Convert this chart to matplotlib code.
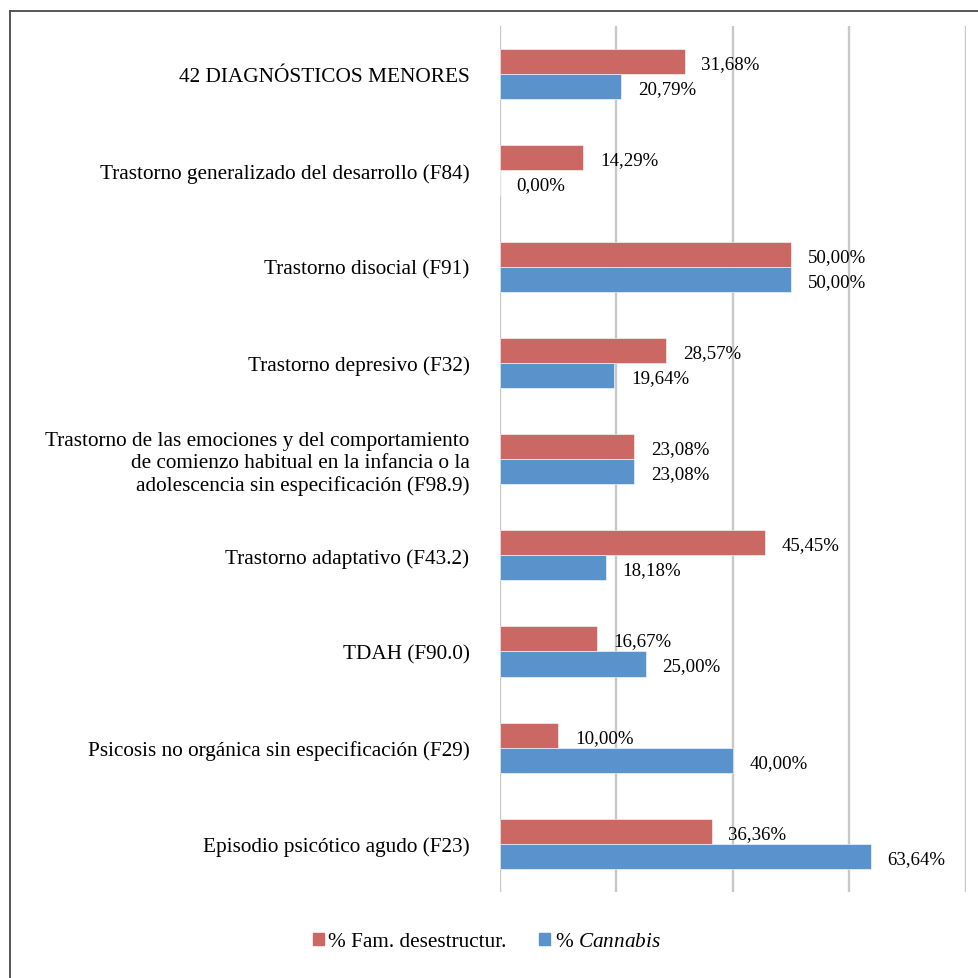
import numpy as np
import matplotlib.pyplot as plt
from matplotlib.lines import Line2D

plt.rcParams["font.family"] = ["Liberation Serif", "DejaVu Serif"]
plt.rcParams["mathtext.fontset"] = "custom"
plt.rcParams["mathtext.rm"] = "Liberation Serif"
plt.rcParams["mathtext.it"] = "Liberation Serif:italic"

categories = [
    "42 DIAGNÓSTICOS MENORES",
    "Trastorno generalizado del desarrollo (F84)",
    "Trastorno disocial (F91)",
    "Trastorno depresivo (F32)",
    "Trastorno de las emociones y del comportamiento\n"
    "de comienzo habitual en la infancia o la\n"
    "adolescencia sin especificación (F98.9)",
    "Trastorno adaptativo (F43.2)",
    "TDAH (F90.0)",
    "Psicosis no orgánica sin especificación (F29)",
    "Episodio psicótico agudo (F23)",
]
fam_desestructur = [31.68, 14.29, 50.00, 28.57, 23.08, 45.45, 16.67, 10.00, 36.36]
cannabis = [20.79, 0.00, 50.00, 19.64, 23.08, 18.18, 25.00, 40.00, 63.64]
series_labels = ["% Fam. desestructur.", "% $\\mathit{Cannabis}$"]

RED = "#CC6864"
BLUE = "#5A92CB"
GRID = "#C8C8C8"
FS_NUM = 13.6
FS_LAB = 15.3


def fmt(v):
    return f"{v:.2f}%".replace(".", ",")


fig = plt.figure(figsize=(9.79, 9.79), dpi=100)
ax = fig.add_axes([0.5107, 0.0878, 0.4760, 0.8846])

y = np.arange(len(categories))
h = 0.26
ax.barh(y - h / 2, fam_desestructur, height=h, color=RED, edgecolor="white", linewidth=0.4)
ax.barh(y + h / 2, cannabis, height=h, color=BLUE, edgecolor="white", linewidth=0.4)

for yi, v in zip(y - h / 2, fam_desestructur):
    ax.annotate(fmt(v), (v, yi), xytext=(12, -1.5), textcoords="offset points",
                va="center", ha="left", fontsize=FS_NUM)
for yi, v in zip(y + h / 2, cannabis):
    ax.annotate(fmt(v), (v, yi), xytext=(12, -1.5), textcoords="offset points",
                va="center", ha="left", fontsize=FS_NUM)

ax.set_xlim(0, 80)
ax.set_ylim(len(categories) - 0.5, -0.5)
ax.set_xticks([0, 20, 40, 60, 80])
ax.set_xticklabels([])
ax.set_yticks(y)
ax.set_yticklabels(categories, fontsize=FS_LAB, multialignment="right")
ax.tick_params(axis="both", length=0)
ax.tick_params(axis="y", pad=22)
ax.grid(axis="x", color=GRID, linewidth=1.7)
ax.set_axisbelow(True)
for s in ax.spines.values():
    s.set_visible(False)

handles = [
    plt.Rectangle((0, 0), 1, 1, color=RED),
    plt.Rectangle((0, 0), 1, 1, color=BLUE),
]
fig.legend(handles, series_labels, loc="center", bbox_to_anchor=(0.497, 0.037),
           ncol=2, frameon=False, fontsize=FS_LAB, handlelength=0.52, handleheight=0.52,
           handletextpad=0.2, columnspacing=1.55)

# outer frame (only left and top edges are visible in the crop)
fig.add_artist(Line2D([9.5 / 979, 9.5 / 979], [0, 1 - 11.5 / 979], color="#555555",
                      linewidth=1.4, transform=fig.transFigure))
fig.add_artist(Line2D([9.5 / 979, 1], [1 - 11.5 / 979, 1 - 11.5 / 979], color="#555555",
                      linewidth=1.4, transform=fig.transFigure))

fig.savefig("out.png", dpi=100)
